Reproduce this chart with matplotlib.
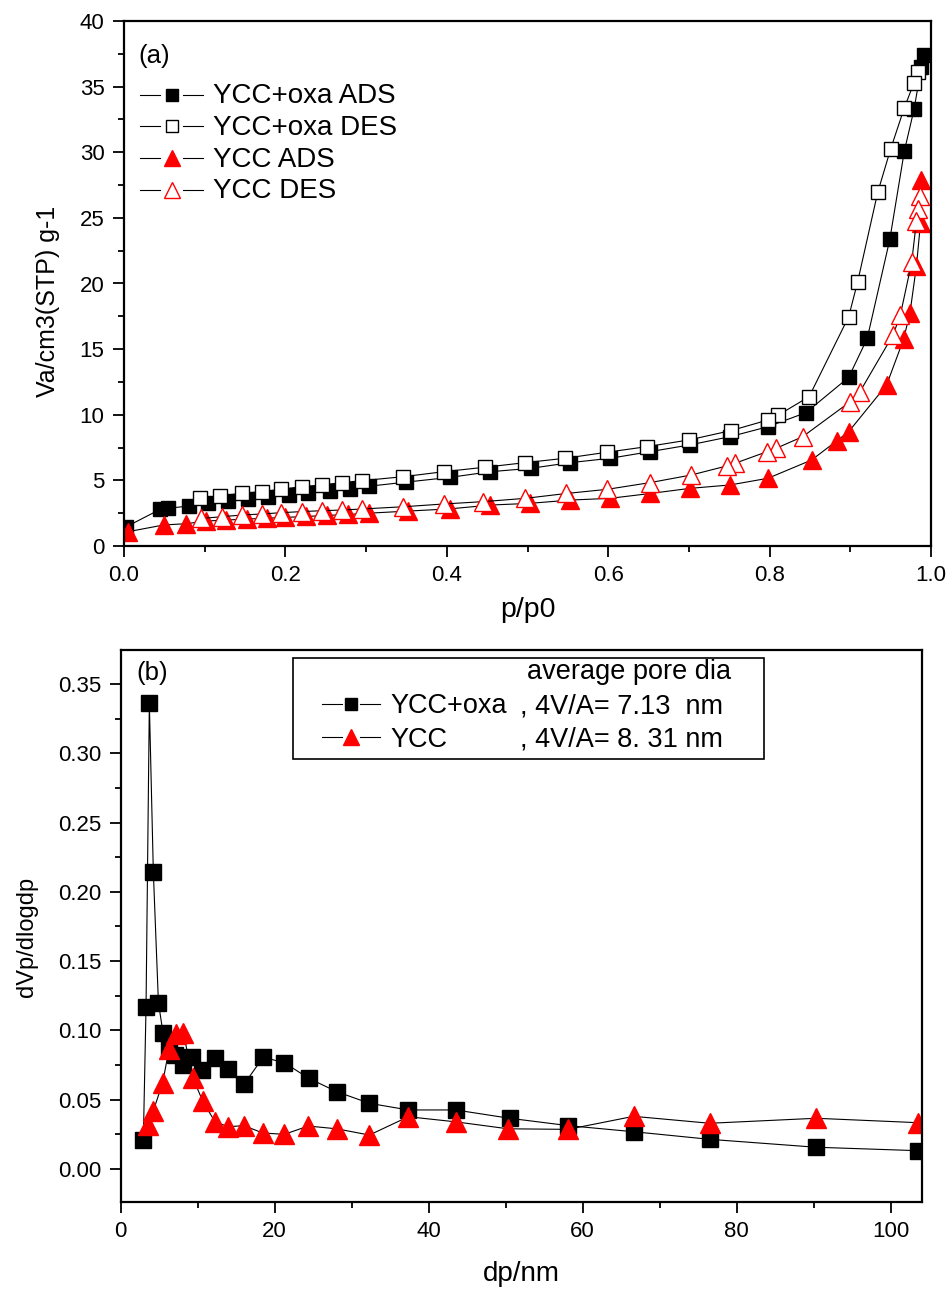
import matplotlib
matplotlib.use("Agg")
import matplotlib.pyplot as plt
from matplotlib.ticker import MultipleLocator, FormatStrFormatter
from matplotlib.patches import Rectangle

plt.rcParams['font.family'] = ['Liberation Sans', 'DejaVu Sans']

# ---------------- Panel (a): isotherms ----------------
oxa_ads_p = [0.003, 0.045, 0.055, 0.080, 0.104, 0.129, 0.154, 0.179, 0.204, 0.228, 0.255, 0.280, 0.303,
             0.350, 0.404, 0.454, 0.504, 0.553, 0.602, 0.652, 0.701, 0.751, 0.798, 0.845, 0.898, 0.921,
             0.949, 0.967, 0.979, 0.988, 0.991]
oxa_ads_v = [1.47, 2.80, 2.87, 3.05, 3.25, 3.40, 3.56, 3.71, 3.89, 4.01, 4.19, 4.37, 4.55,
             4.87, 5.23, 5.66, 5.92, 6.35, 6.68, 7.19, 7.70, 8.33, 9.09, 10.16, 12.85, 15.82,
             23.37, 30.10, 33.27, 36.50, 37.40]

oxa_des_p = [0.984, 0.979, 0.967, 0.950, 0.934, 0.909, 0.898, 0.849, 0.811, 0.798, 0.752, 0.700, 0.648,
             0.598, 0.546, 0.497, 0.447, 0.396, 0.346, 0.295, 0.270, 0.245, 0.220, 0.195, 0.171, 0.146,
             0.119, 0.094]
oxa_des_v = [36.1, 35.3, 33.4, 30.25, 26.95, 20.1, 17.47, 11.38, 9.98, 9.6, 8.79, 8.08, 7.57,
             7.14, 6.68, 6.35, 6.0, 5.66, 5.28, 4.98, 4.83, 4.65, 4.52, 4.32, 4.14, 4.01,
             3.83, 3.63]

ycc_ads_p = [0.005, 0.049, 0.077, 0.102, 0.127, 0.152, 0.177, 0.200, 0.226, 0.251, 0.278, 0.303, 0.352,
             0.404, 0.454, 0.503, 0.553, 0.602, 0.652, 0.701, 0.751, 0.798, 0.852, 0.883, 0.898, 0.945,
             0.966, 0.974, 0.982, 0.987, 0.988]
ycc_ads_v = [1.09, 1.60, 1.70, 1.90, 1.98, 2.05, 2.12, 2.18, 2.25, 2.33, 2.40, 2.50, 2.66,
             2.83, 3.12, 3.25, 3.50, 3.63, 4.00, 4.39, 4.65, 5.16, 6.55, 8.00, 8.71, 12.27,
             15.75, 17.78, 21.36, 24.60, 27.90]

ycc_des_p = [0.986, 0.984, 0.982, 0.976, 0.962, 0.953, 0.912, 0.900, 0.841, 0.808, 0.797, 0.757, 0.747,
             0.703, 0.652, 0.599, 0.548, 0.497, 0.445, 0.396, 0.346, 0.295, 0.270, 0.245, 0.220, 0.195,
             0.171, 0.146, 0.121, 0.096]
ycc_des_v = [26.7, 25.7, 24.76, 21.6, 17.6, 16.08, 11.76, 11.0, 8.33, 7.44, 7.19, 6.3, 6.1,
             5.41, 4.83, 4.32, 4.0, 3.63, 3.38, 3.2, 2.99, 2.82, 2.74, 2.69, 2.62, 2.54,
             2.44, 2.36, 2.23, 2.1]

labels_a = ['YCC+oxa ADS', 'YCC+oxa DES', 'YCC ADS', 'YCC DES']

# ---------------- Panel (b): pore size distribution ----------------
oxa_dp = [2.94, 3.29, 3.72, 4.24, 4.9, 5.5, 6.3, 7.1, 8.1, 9.3, 10.6, 12.2, 13.9, 16.0, 18.5, 21.25,
          24.4, 28.05, 32.3, 37.35, 43.5, 50.5, 58.1, 66.6, 76.5, 90.3, 103.6]
oxa_psd = [0.021, 0.117, 0.336, 0.214, 0.120, 0.098, 0.087, 0.082, 0.075, 0.081, 0.0714, 0.080, 0.072,
           0.061, 0.0806, 0.0767, 0.0655, 0.0558, 0.0474, 0.0426, 0.0426, 0.0366, 0.0313, 0.0269,
           0.0214, 0.0157, 0.0132]

ycc_dp = [3.59, 4.24, 5.45, 6.27, 7.18, 8.13, 9.35, 10.65, 12.25, 13.97, 16.0, 18.44, 21.25, 24.36,
          28.05, 32.29, 37.35, 43.55, 50.3, 58.1, 66.6, 76.5, 90.3, 103.6]
ycc_psd = [0.0317, 0.042, 0.0623, 0.0864, 0.0974, 0.0983, 0.066, 0.049, 0.034, 0.0305, 0.0313, 0.026,
           0.025, 0.031, 0.029, 0.0245, 0.0377, 0.034, 0.029, 0.0286, 0.038, 0.033, 0.0366, 0.0334]

labels_b = ['YCC+oxa', 'YCC']
pore_header = 'average pore dia'
pore_text = [', 4V/A= 7.13  nm', ', 4V/A= 8. 31 nm']

RED = '#ff0000'
TICK_FS = 16
LEG_A_FS = 20
LEG_B_FS = 19.5

fig = plt.figure(figsize=(9.51, 12.89), dpi=100)
W, H = 951, 1289
ax1 = fig.add_axes([124 / W, 1 - 546 / H, (931 - 124) / W, (546 - 21) / H])
ax2 = fig.add_axes([120.7 / W, 1 - 1201.7 / H, (922.3 - 120.7) / W, (1201.7 - 650) / H])


def style_axis(ax):
    for s in ax.spines.values():
        s.set_linewidth(1.6)
    ax.tick_params(which='both', direction='out', top=False, right=False, width=1.3,
                   labelsize=TICK_FS, pad=6)
    ax.tick_params(which='major', length=8)
    ax.tick_params(which='minor', length=4.5)


lw = 0.8
styles_a = [dict(marker='s', ms=9.5, mfc='black', mec='black'),
            dict(marker='s', ms=9.5, mfc='white', mec='black', mew=1.0),
            dict(marker='^', ms=13, mfc=RED, mec=RED),
            dict(marker='^', ms=13, mfc='white', mec=RED, mew=1.0)]
series_a = [(oxa_ads_p, oxa_ads_v), (oxa_des_p, oxa_des_v), (ycc_ads_p, ycc_ads_v), (ycc_des_p, ycc_des_v)]
for (xs, ys), st, lab in zip(series_a, styles_a, labels_a):
    ax1.plot(xs, ys, color='black', lw=lw, label=lab, **st)

ax1.set_xlim(0, 1.0)
ax1.set_ylim(0, 40)
ax1.xaxis.set_major_locator(MultipleLocator(0.2))
ax1.xaxis.set_minor_locator(MultipleLocator(0.1))
ax1.yaxis.set_major_locator(MultipleLocator(5))
ax1.yaxis.set_minor_locator(MultipleLocator(2.5))
ax1.xaxis.set_major_formatter(FormatStrFormatter('%.1f'))
style_axis(ax1)
ax1.set_xlabel('p/p0', fontsize=20.5)
ax1.set_ylabel('Va/cm3(STP) g-1', fontsize=18)
ax1.xaxis.set_label_coords(0.5, -0.097)
ax1.yaxis.set_label_coords(-0.079, 0.465)
ax1.text(0.018, 0.957, '(a)', transform=ax1.transAxes, fontsize=18.5, ha='left', va='top')

# manual legend of panel (a): line - marker - line, then text
leg_a_mid = [0.8596, 0.7994, 0.7390, 0.6787]
leg_a_base = [0.8432, 0.7829, 0.7225, 0.6623]
for st, lab, ym, yb in zip(styles_a, labels_a, leg_a_mid, leg_a_base):
    ax1.plot([0.0198, 0.0446], [ym, ym], color='black', lw=lw, transform=ax1.transAxes, clip_on=False)
    ax1.plot([0.0731, 0.0979], [ym, ym], color='black', lw=lw, transform=ax1.transAxes, clip_on=False)
    st2 = dict(st)
    st2['ms'] = st['ms'] * (0.9 if st['marker'] == 's' else 0.85)
    ax1.plot([0.0589], [ym], ls='none', transform=ax1.transAxes, clip_on=False, **st2)
    ax1.text(0.1103, yb, lab, transform=ax1.transAxes, fontsize=LEG_A_FS, ha='left', va='baseline')

# Panel (b)
styles_b = [dict(marker='s', ms=11.5, mfc='black', mec='black'),
            dict(marker='^', ms=15, mfc=RED, mec=RED)]
series_b = [(oxa_dp, oxa_psd), (ycc_dp, ycc_psd)]
for (xs, ys), st, lab in zip(series_b, styles_b, labels_b):
    ax2.plot(xs, ys, color='black', lw=lw, label=lab, **st)

ax2.set_xlim(0, 104.1)
ax2.set_ylim(-0.0236, 0.3745)
ax2.xaxis.set_major_locator(MultipleLocator(20))
ax2.xaxis.set_minor_locator(MultipleLocator(10))
ax2.yaxis.set_major_locator(MultipleLocator(0.05))
ax2.yaxis.set_minor_locator(MultipleLocator(0.025))
ax2.yaxis.set_major_formatter(FormatStrFormatter('%.2f'))
style_axis(ax2)
ax2.set_xlabel('dp/nm', fontsize=20)
ax2.set_ylabel('dVp/dlogdp', fontsize=17)
ax2.xaxis.set_label_coords(0.5, -0.108)
ax2.yaxis.set_label_coords(-0.103, 0.48)
ax2.text(0.020, 0.980, '(b)', transform=ax2.transAxes, fontsize=18.5, ha='left', va='top')

# framed legend box of panel (b)
ax2.add_patch(Rectangle((0.215, 0.8024), 0.8025 - 0.215, 0.9855 - 0.8024, transform=ax2.transAxes,
                        fill=False, edgecolor='black', lw=1.2, zorder=5))
leg_b_mid = [0.9021, 0.8414]
leg_b_base = [0.8853, 0.8247]
for st, lab, ptxt, ym, yb in zip(styles_b, labels_b, pore_text, leg_b_mid, leg_b_base):
    ax2.plot([0.2507, 0.2757], [ym, ym], color='black', lw=lw, transform=ax2.transAxes, clip_on=False)
    ax2.plot([0.2985, 0.3235], [ym, ym], color='black', lw=lw, transform=ax2.transAxes, clip_on=False)
    st2 = dict(st)
    st2['ms'] = 9 if st['marker'] == 's' else 12
    ax2.plot([0.2871], [ym], ls='none', transform=ax2.transAxes, clip_on=False, **st2)
    ax2.text(0.3359, yb, lab, transform=ax2.transAxes, fontsize=LEG_B_FS, ha='left', va='baseline')
    ax2.text(0.4981, yb, ptxt, transform=ax2.transAxes, fontsize=LEG_B_FS, ha='left', va='baseline')
ax2.text(0.5068, 0.9474, pore_header, transform=ax2.transAxes, fontsize=LEG_B_FS,
         ha='left', va='baseline')

fig.savefig('out.png', dpi=100)
